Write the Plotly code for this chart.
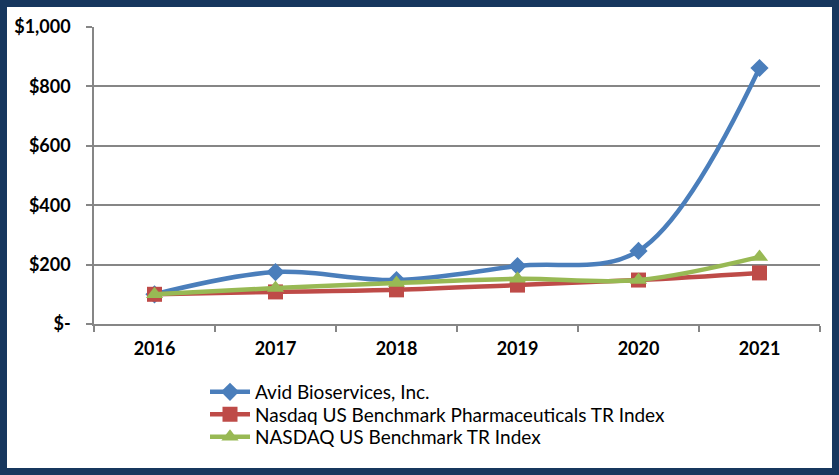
import plotly.graph_objects as go

years = ["2016", "2017", "2018", "2019", "2020", "2021"]
avid = [100, 175, 148, 195, 246, 862]
pharma = [100, 108, 115, 131, 148, 172]
nasdaq = [100, 121, 138, 152, 148, 226]

y_tickvals = [0, 200, 400, 600, 800, 1000]
y_ticktext = ["$-", "$200", "$400", "$600", "$800", "$1,000"]

W, H = 839, 475
ml, mr, mt, mb = 94, 19, 27, 151
pw, ph = W - ml - mr, H - mt - mb
FONT = "Lato, Open Sans, sans-serif"

def px_x(x):
    return (x - ml) / pw

def px_y(y):
    return (H - mb - y) / ph

fig = go.Figure()
fig.add_trace(go.Scatter(x=years, y=avid, name="Avid Bioservices, Inc.", legend="legend",
                         mode="lines+markers", line=dict(color="#4A7EBB", width=4.5, shape="spline", smoothing=1),
                         marker=dict(symbol="diamond", size=14, color="#4A7EBB")))
fig.add_trace(go.Scatter(x=years, y=pharma, name="Nasdaq US Benchmark Pharmaceuticals TR Index", legend="legend2",
                         mode="lines+markers", line=dict(color="#BE4B48", width=4.5, shape="spline", smoothing=1),
                         marker=dict(symbol="square", size=15, color="#BE4B48")))
fig.add_trace(go.Scatter(x=years, y=nasdaq, name="NASDAQ US Benchmark TR Index", legend="legend3",
                         mode="lines+markers", line=dict(color="#98B954", width=4.5, shape="spline", smoothing=1),
                         marker=dict(symbol="triangle-up", size=15, color="#98B954")))

fig.add_shape(type="rect", xref="paper", yref="paper",
              x0=px_x(7), x1=px_x(832), y0=px_y(468), y1=px_y(7),
              fillcolor="white", line=dict(width=0), layer="below")

def leg(ypx):
    return dict(x=px_x(205), y=px_y(ypx), xanchor="left", yanchor="middle",
                font=dict(family=FONT, size=19, color="black"),
                bgcolor="rgba(0,0,0,0)", itemwidth=40)

fig.update_layout(
    width=W, height=H,
    margin=dict(l=ml, r=mr, t=mt, b=mb),
    paper_bgcolor="#17375E",
    plot_bgcolor="white",
    showlegend=True,
    legend=leg(392), legend2=leg(414.5), legend3=leg(437),
    font=dict(family=FONT, color="black"),
)
fig.update_xaxes(type="category", range=[-0.5, 5.5], showline=True, linecolor="#868686", linewidth=1.5,
                 ticks="outside", tickson="boundaries", ticklen=6, tickcolor="#868686", tickwidth=1.5,
                 showgrid=False, tickfont=dict(size=18, family=FONT, weight="bold"),
                 ticklabelstandoff=8)
fig.update_yaxes(range=[0, 1000], tickvals=y_tickvals, ticktext=y_ticktext, showline=True,
                 linecolor="#868686", linewidth=1.5, ticks="outside", ticklen=6, tickcolor="#868686",
                 tickwidth=1.5, showgrid=True, gridcolor="#868686", gridwidth=1.5, zeroline=False,
                 tickfont=dict(size=18, family=FONT, weight="bold"),
                 ticklabelstandoff=12)

fig.write_html("out.html", config={"displayModeBar": False},
               post_script="document.body.style.margin='0';document.body.style.overflow='hidden';")
